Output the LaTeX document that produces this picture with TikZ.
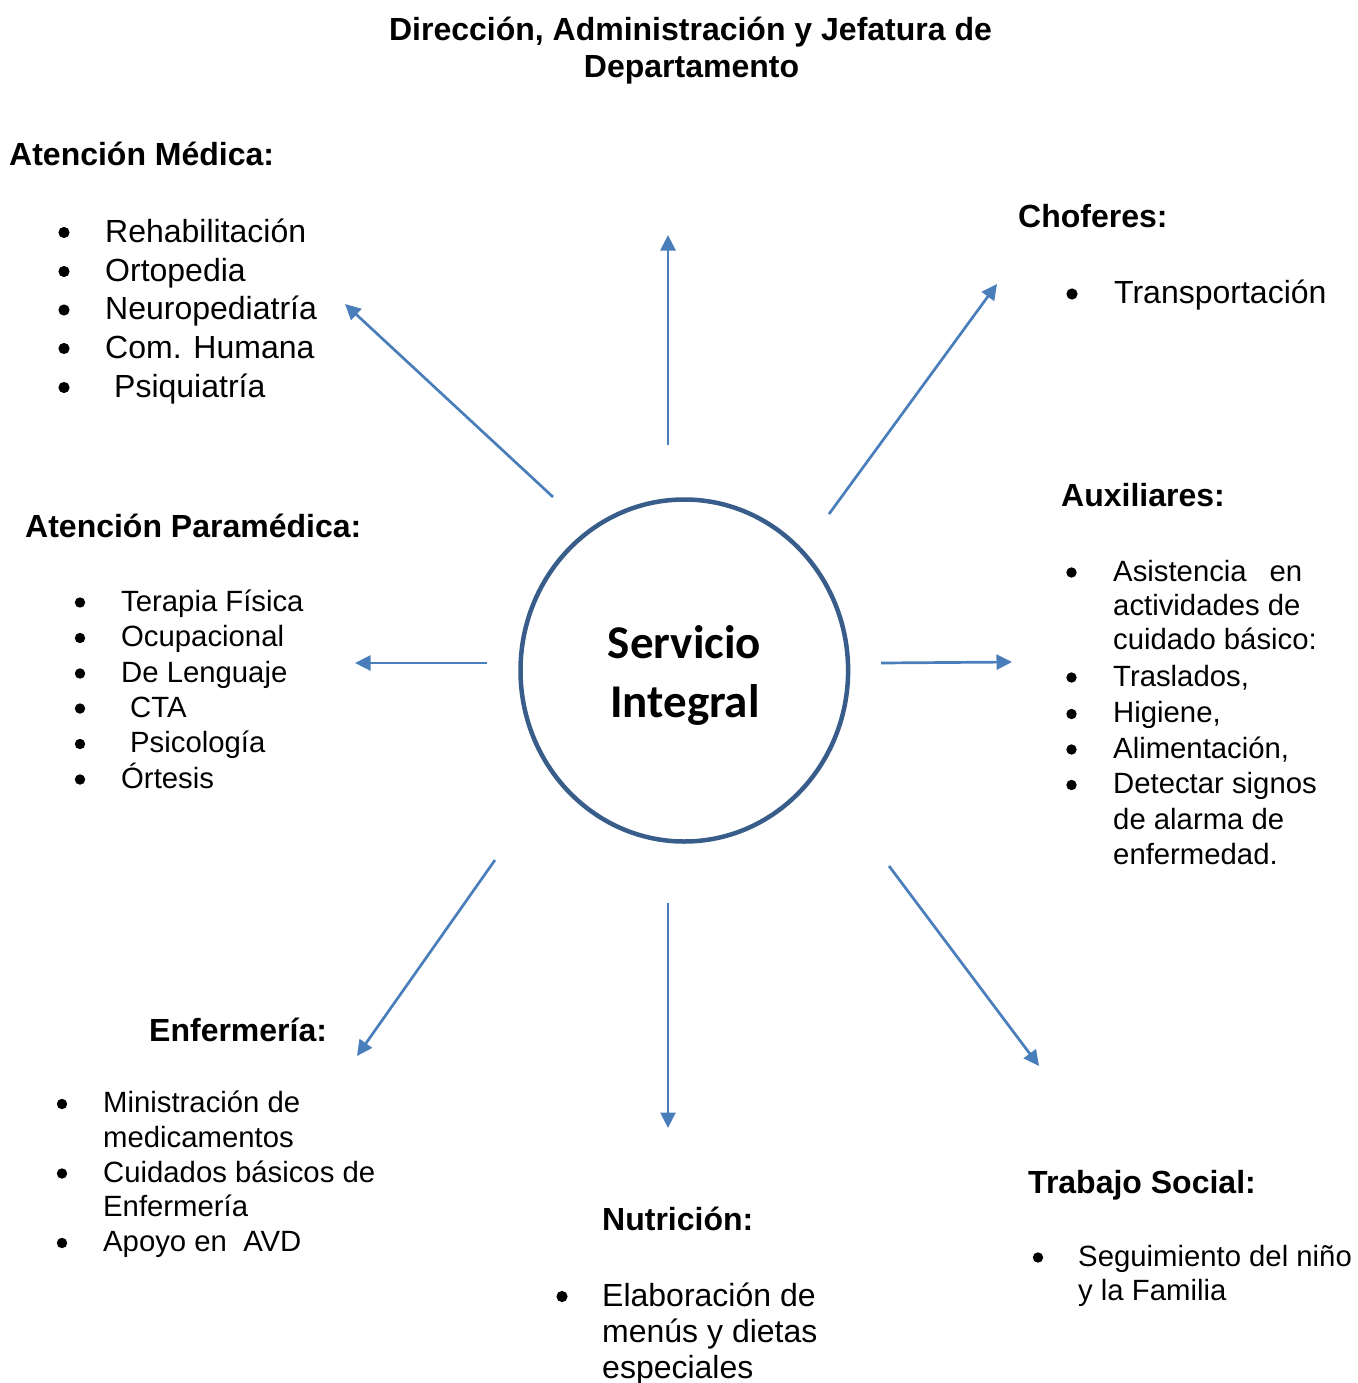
\documentclass[tikz,border=0pt]{standalone}
\usepackage{fontspec}
\setmainfont{Liberation Sans}
\newfontfamily\calibri{Carlito}
\usetikzlibrary{arrows.meta,shapes.geometric}
\definecolor{arrowblue}{HTML}{4A7EBB}
\definecolor{circblue}{HTML}{385D8A}
\newcommand\mybul[3]{\fill (#1,#2) circle (#3pt);}
\tikzset{
  hd/.style={font=\fontsize{32}{38}\selectfont\bfseries, anchor=base west, inner sep=0pt},
  ttl/.style={font=\fontsize{32}{38}\selectfont\bfseries, anchor=base, inner sep=0pt},
  itL/.style={font=\fontsize{32}{38}\selectfont, anchor=base west, inner sep=0pt},
  itS/.style={font=\fontsize{29.3}{35}\selectfont, anchor=base west, inner sep=0pt},
  ctr/.style={font=\fontsize{47}{56}\selectfont\calibri\bfseries, anchor=base, inner sep=0pt},
  arr/.style={draw=arrowblue, line width=2.7pt, -{Triangle[length=15.5pt,width=15pt]}},
}
\begin{document}
\begin{tikzpicture}[x=1pt,y=-1pt]
\useasboundingbox (0,0) rectangle (1357,1383);
% title
\node[ttl] (t1) at (690.5,40.5) {Dirección, Administración y Jefatura de};
\node[ttl] (t2) at (691.5,77.5) {Departamento};
% center circle
\node[draw=circblue, line width=4.5pt, ellipse, inner sep=0pt, minimum width=327.6pt, minimum height=342pt] (c) at (684.3,670.5) {};
\node[ctr] (s1) at (684.5,658) {Servicio};
\node[ctr] (s2) at (685,717) {Integral};
% Atencion Medica
\node[hd] (hm) at (9,166) {Atención Médica:};
\node[itL] (m1) at (105,242) {Rehabilitación};
\node[itL] (m2) at (105,281) {Ortopedia};
\node[itL] (m3) at (105,319.5) {Neuropediatría};
\node[itL] (m4) at (105,358) {Com. Humana};
\node[itL] (m5) at (114,397) {Psiquiatría};
\mybul{64}{232.5}{5.6}\mybul{64}{271.5}{5.6}\mybul{64}{310}{5.6}\mybul{64}{348.5}{5.6}\mybul{64}{387.5}{5.6}
% Choferes
\node[hd] (hc) at (1018,227.5) {Choferes:};
\node[itL] (c1) at (1114,303.5) {Transportación};
\mybul{1072}{294}{5.6}
% Auxiliares
\node[hd] (ha) at (1061,506.5) {Auxiliares:};
\node[itS] (a1) at (1113,581) {\makebox[189pt][l]{Asistencia\hfill en}};
\node[itS] (a1b) at (1113,615) {actividades de};
\node[itS] (a1c) at (1113,649) {cuidado básico:};
\node[itS] (a2) at (1113,686) {Traslados,};
\node[itS] (a3) at (1113,722.5) {Higiene,};
\node[itS] (a4) at (1113,758) {Alimentación,};
\node[itS] (a5) at (1113,793.5) {Detectar signos};
\node[itS] (a5b) at (1113,829) {de alarma de};
\node[itS] (a5c) at (1113,864.5) {enfermedad.};
\mybul{1071.5}{572.5}{5.2}\mybul{1071.5}{677.5}{5.2}\mybul{1071.5}{714}{5.2}\mybul{1071.5}{749.5}{5.2}\mybul{1071.5}{785}{5.2}
% Atencion Paramedica
\node[hd] (hp) at (25,537) {Atención Paramédica:};
\node[itS] (p1) at (121,611) {Terapia Física};
\node[itS] (p2) at (121,646.5) {Ocupacional};
\node[itS] (p3) at (121,682) {De Lenguaje};
\node[itS] (p4) at (130,717) {CTA};
\node[itS] (p5) at (130,752.5) {Psicología};
\node[itS] (p6) at (121,788) {Órtesis};
\mybul{80}{602.5}{5.2}\mybul{80}{638}{5.2}\mybul{80}{673.5}{5.2}\mybul{80}{708.5}{5.2}\mybul{80}{744}{5.2}\mybul{80}{779.5}{5.2}
% Enfermeria
\node[hd] (he) at (149,1041) {Enfermería:};
\node[itS] (e1) at (103,1112.5) {Ministración de};
\node[itS] (e1b) at (103,1147) {medicamentos};
\node[itS] (e2) at (103,1182) {Cuidados básicos de};
\node[itS] (e2b) at (103,1216) {Enfermería};
\node[itS] (e3) at (103,1251.5) {Apoyo en\ \ AVD};
\mybul{62}{1104}{5.2}\mybul{62}{1173.5}{5.2}\mybul{62}{1243}{5.2}
% Nutricion
\node[hd] (hn) at (602,1230.5) {Nutrición:};
\node[itL] (n1) at (602,1306) {Elaboración de};
\node[itL] (n1b) at (602,1342.5) {menús y dietas};
\node[itL] (n1c) at (602,1378) {especiales};
\mybul{562}{1296.5}{5.6}
% Trabajo social
\node[hd] (hs) at (1028,1193.5) {Trabajo Social:};
\node[itS] (w1) at (1078,1266) {Seguimiento del niño};
\node[itS] (w1b) at (1078,1300.5) {y la Familia};
\mybul{1038}{1257.5}{5.2}
% arrows
\coordinate (o1) at (553,497); \coordinate (e1h) at (345,304);
\coordinate (o2) at (668,445); \coordinate (e2h) at (668,235);
\coordinate (o3) at (829,514); \coordinate (e3h) at (997,284);
\coordinate (o4) at (487,663); \coordinate (e4h) at (355,663);
\coordinate (o5) at (881,663); \coordinate (e5h) at (1012,662);
\coordinate (o6) at (495,860); \coordinate (e6h) at (357,1056);
\coordinate (o7) at (668,903); \coordinate (e7h) at (668,1128);
\coordinate (o8) at (889,866); \coordinate (e8h) at (1039,1066);
\draw[arr] (o1) -- (e1h);
\draw[arr] (o2) -- (e2h);
\draw[arr] (o3) -- (e3h);
\draw[arr] (o4) -- (e4h);
\draw[arr] (o5) -- (e5h);
\draw[arr] (o6) -- (e6h);
\draw[arr] (o7) -- (e7h);
\draw[arr] (o8) -- (e8h);
\end{tikzpicture}
\end{document}
